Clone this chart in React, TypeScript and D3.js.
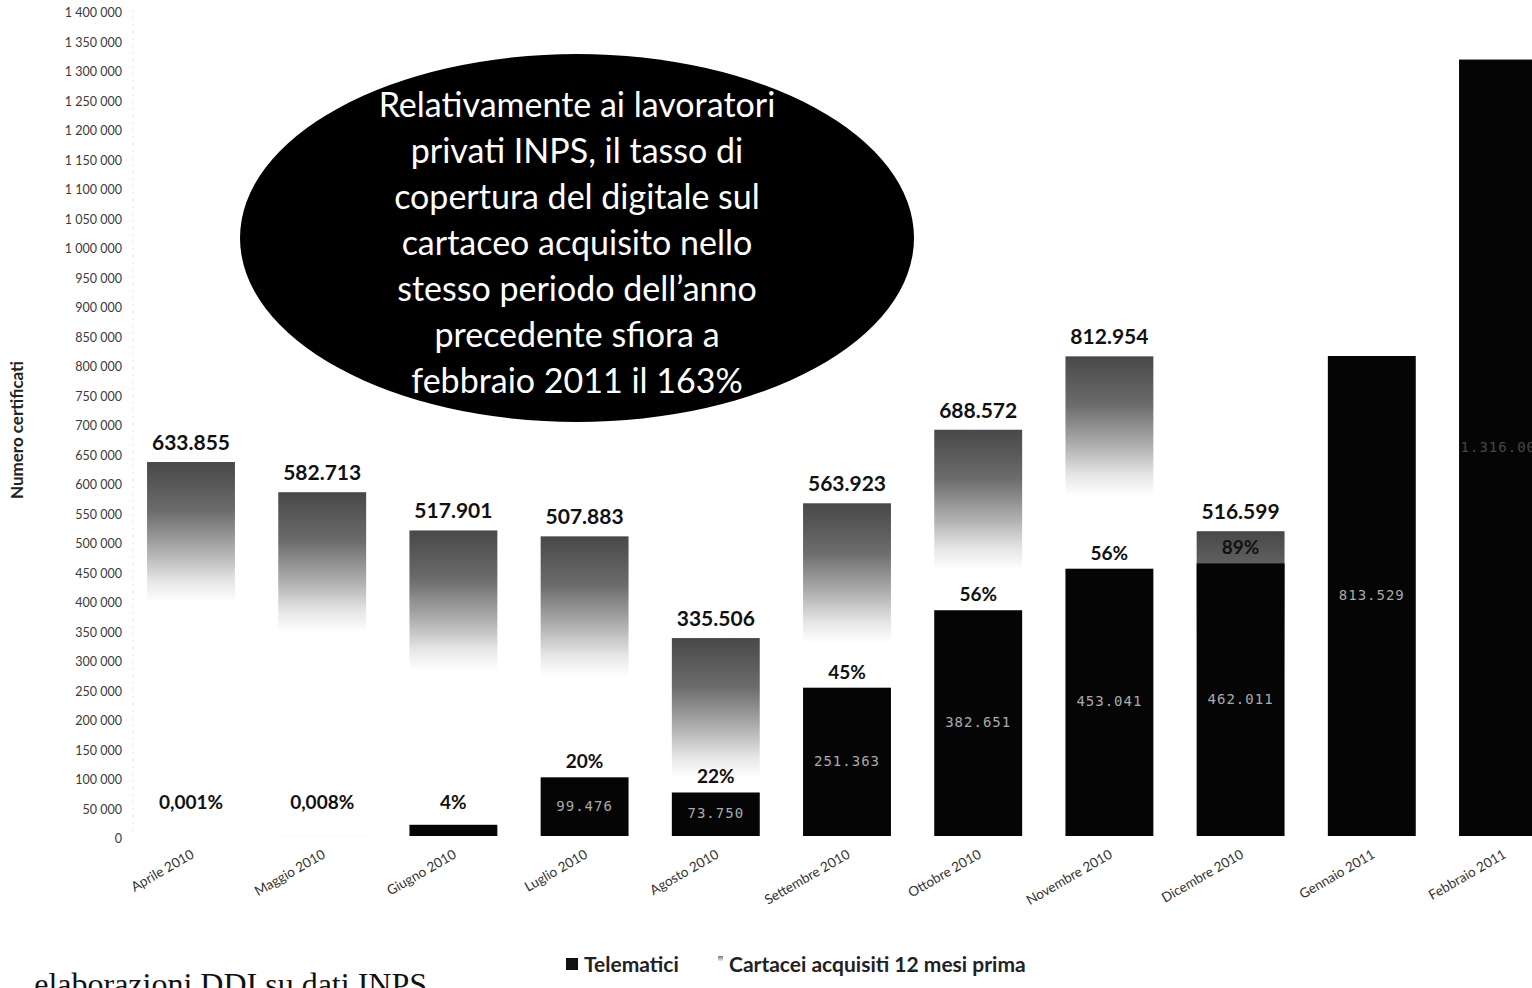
import { useEffect } from 'react';
import * as d3 from 'd3';

// Months on the x axis
const MONTHS = [
  'Aprile 2010', 'Maggio 2010', 'Giugno 2010', 'Luglio 2010', 'Agosto 2010',
  'Settembre 2010', 'Ottobre 2010', 'Novembre 2010', 'Dicembre 2010',
  'Gennaio 2011', 'Febbraio 2011',
];

// Certificati telematici (black bars)
const TELEMATICI = [6, 47, 19000, 99476, 73750, 251363, 382651, 453041, 462011, 813529, 1316000];

// Certificati cartacei acquisiti 12 mesi prima (gradient bars, hidden for the last two months)
const CARTACEI: (number | null)[] = [633855, 582713, 517901, 507883, 335506, 563923, 688572, 812954, 516599, null, null];

// Coverage labels shown above the black bars
const COPERTURA = ['0,001%', '0,008%', '4%', '20%', '22%', '45%', '56%', '56%', '89%', '', ''];

// Inner value labels shown from Luglio on
const SHOW_INNER = [false, false, false, true, true, true, true, true, true, true, true];

const BALLOON_LINES = [
  'Relativamente ai lavoratori',
  'privati INPS, il tasso di',
  'copertura del digitale sul',
  'cartaceo acquisito nello',
  'stesso periodo dell’anno',
  'precedente sfiora a',
  'febbraio 2011 il 163%',
];

const W = 1532;
const H = 988;
const FONT = 'Lato, "Open Sans", sans-serif';
// how far (px) the grey of a paper bar takes to fade out
const FADE = 140;

export default function App() {
  useEffect(() => {
    document.body.style.margin = '0';
  }, []);

  const x = d3
    .scaleBand<string>()
    .domain(MONTHS)
    .range([125.4, 125.4 + 131.2 * MONTHS.length])
    .paddingInner(0.33)
    .paddingOuter(0.165);

  const y = d3.scaleLinear().domain([0, 1400000]).range([836, 10]);
  const ticks = d3.range(0, 1400001, 50000);
  const tickFmt = (v: number) => d3.format(',')(v).replace(/,/g, ' ');
  const dotFmt = (v: number) => d3.format(',')(v).replace(/,/g, '.');

  const bw = x.bandwidth();

  return (
    <svg width={W} height={H} style={{ position: 'absolute', left: 0, top: 0, background: '#fff' }}>
      <defs>
        {MONTHS.map((m, i) => {
          const v = CARTACEI[i];
          if (v == null) return null;
          const top = y(v);
          return (
            <linearGradient
              key={`g-${m}`}
              id={`cg${i}`}
              gradientUnits="userSpaceOnUse"
              x1="0"
              x2="0"
              y1={top}
              y2={top + FADE}
            >
              <stop offset="0" stopColor="#484848" />
              <stop offset="0.35" stopColor="#6c6c6c" />
              <stop offset="0.65" stopColor="#b2b2b2" />
              <stop offset="0.85" stopColor="#e6e6e6" />
              <stop offset="1" stopColor="#ffffff" />
            </linearGradient>
          );
        })}
        <linearGradient id="legGrad" x1="0" y1="0" x2="0" y2="1">
          <stop offset="0" stopColor="#777" />
          <stop offset="1" stopColor="#eee" />
        </linearGradient>
      </defs>

      {/* y axis */}
      <line x1={133} x2={133} y1={y(1400000)} y2={y(0)} stroke="#e4e4e4" strokeDasharray="2 5" />
      {ticks.map(t => (
        <text
          key={t}
          x={122}
          y={y(t) + 4}
          textAnchor="end"
          dominantBaseline="middle"
          fontFamily={FONT}
          fontSize={12.5}
          fill="#3a3a3a"
        >
          {tickFmt(t)}
        </text>
      ))}
      <text
        transform={`translate(23, 430) rotate(-90)`}
        textAnchor="middle"
        fontFamily={FONT}
        fontWeight={700}
        fontSize={17}
        fill="#222"
      >
        Numero certificati
      </text>

      {/* cartacei bars */}
      {MONTHS.map((m, i) => {
        const v = CARTACEI[i];
        if (v == null) return null;
        return (
          <rect key={`c-${m}`} x={x(m)} y={y(v)} width={bw} height={y(0) - y(v)} fill={`url(#cg${i})`} />
        );
      })}

      {/* telematici bars */}
      {MONTHS.map((m, i) => (
        <rect
          key={`t-${m}`}
          x={x(m)}
          y={y(TELEMATICI[i])}
          width={bw}
          height={y(0) - y(TELEMATICI[i])}
          fill="#050505"
        />
      ))}

      {/* inner labels */}
      {MONTHS.map((m, i) =>
        SHOW_INNER[i] ? (
          <text
            key={`in-${m}`}
            x={(x(m) ?? 0) + bw / 2}
            y={(y(TELEMATICI[i]) + y(0)) / 2}
            textAnchor="middle"
            dominantBaseline="middle"
            fontFamily='"DejaVu Sans Mono", monospace'
            fontSize={14}
            letterSpacing={1}
            fill="#bdbdbd"
            opacity={i === MONTHS.length - 1 ? 0.35 : 0.9}
          >
            {dotFmt(TELEMATICI[i])}
          </text>
        ) : null,
      )}

      {/* cartacei value labels */}
      {MONTHS.map((m, i) => {
        const v = CARTACEI[i];
        if (v == null) return null;
        return (
          <text
            key={`cv-${m}`}
            x={(x(m) ?? 0) + bw / 2}
            y={y(v) - 12}
            textAnchor="middle"
            fontFamily={FONT}
            fontWeight={700}
            fontSize={21}
            fill="#111"
          >
            {dotFmt(v)}
          </text>
        );
      })}

      {/* coverage labels */}
      {MONTHS.map((m, i) =>
        COPERTURA[i] ? (
          <text
            key={`p-${m}`}
            x={(x(m) ?? 0) + bw / 2}
            y={Math.min(y(TELEMATICI[i]) - 9, y(46000))}
            textAnchor="middle"
            fontFamily={FONT}
            fontWeight={700}
            fontSize={19}
            fill="#111"
          >
            {COPERTURA[i]}
          </text>
        ) : null,
      )}

      {/* x labels */}
      {MONTHS.map(m => (
        <text
          key={`x-${m}`}
          transform={`translate(${(x(m) ?? 0) + bw / 2 + 4}, 857) rotate(-30)`}
          textAnchor="end"
          fontFamily={FONT}
          fontSize={13.5}
          fill="#333"
        >
          {m}
        </text>
      ))}

      {/* balloon */}
      <ellipse cx={577} cy={238} rx={337} ry={184} fill="#000" />
      {BALLOON_LINES.map((l, i) => (
        <text
          key={l}
          x={577}
          y={108 + i * 46}
          textAnchor="middle"
          dominantBaseline="middle"
          fontFamily={FONT}
          fontSize={34}
          fill="#fff"
        >
          {l}
        </text>
      ))}

      {/* legend */}
      <rect x={566} y={958} width={12} height={12} fill="#111" />
      <text x={584} y={972} fontFamily={FONT} fontWeight={700} fontSize={21} fill="#222">
        Telematici
      </text>
      <rect x={718} y={956} width={5} height={5} fill="url(#legGrad)" />
      <text x={729} y={972} fontFamily={FONT} fontWeight={700} fontSize={21} fill="#222">
        Cartacei acquisiti 12 mesi prima
      </text>

      {/* source note, cut by the bottom edge as in the scan */}
      <text x={427} y={995} textAnchor="end" fontFamily='"Liberation Serif", serif' fontSize={32} fill="#111">
        elaborazioni DDI su dati INPS
      </text>
    </svg>
  );
}
